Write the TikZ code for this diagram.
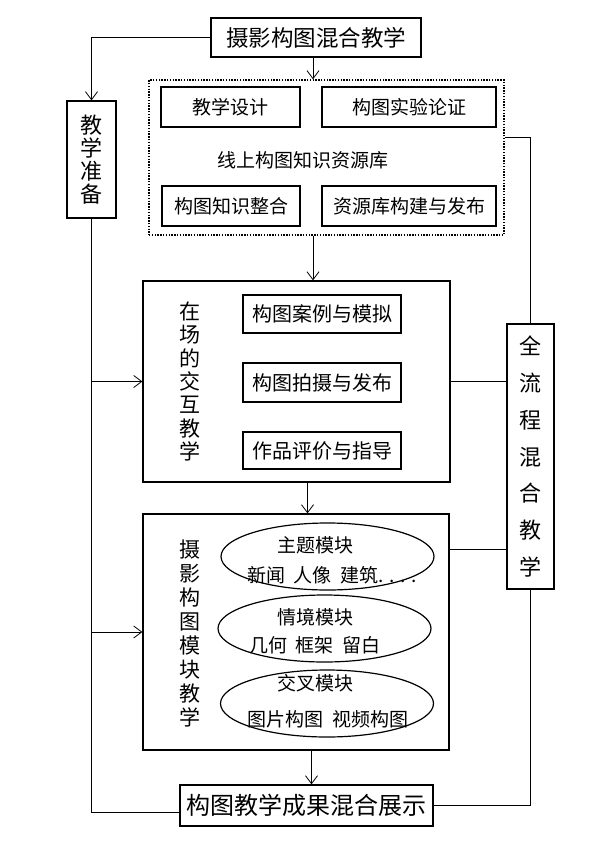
\documentclass[tikz,border=0pt]{standalone}
\usepackage{fontspec}
\setmainfont{Noto Sans CJK SC}
\usetikzlibrary{arrows.meta,positioning,calc,shapes.geometric}
\tikzset{
  kuang/.style={draw,line width=1.3pt,inner sep=0pt,align=center},
  xukuang/.style={draw,line width=1.4pt,dash pattern=on 1.4pt off 1.4pt,inner sep=0pt},
  tuoyuan/.style={draw,ellipse,line width=1.2pt,inner sep=0pt,minimum width=213pt,minimum height=67pt},
  wenzi/.style={inner sep=0pt,font=\fontsize{19}{21}\selectfont},
  shu/.style={align=center,inner sep=0pt},
  xian/.style={line width=0.8pt},
  jian/.style={xian,-{Straight Barb[length=8pt,width=12pt]}},
}
\begin{document}
\begin{tikzpicture}[x=1pt,y=-1pt]
  \useasboundingbox (0,0) rectangle (602,856);
  % ding bu
  \node[kuang,minimum width=210pt,minimum height=39pt,font=\fontsize{22.5}{25}\selectfont] (zong) at (316,37.5) {摄影构图混合教学};
  \node[kuang,minimum width=49pt,minimum height=117pt,font=\fontsize{22}{23}\selectfont] (zhunbei) at (91.5,159.5) {教\\学\\准\\备};
  % xian shang zi yuan ku
  \node[xukuang,minimum width=355pt,minimum height=155pt] (ziyuan) at (326.5,157.5) {};
  \node[kuang,minimum width=139pt,minimum height=40pt,font=\fontsize{19}{21}\selectfont] (sheji) at (230.5,107) {教学设计};
  \node[kuang,minimum width=174pt,minimum height=40pt,font=\fontsize{19}{21}\selectfont] (shiyan) at (409,107) {构图实验论证};
  \node[wenzi] (kuming) at (303,160) {线上构图知识资源库};
  \node[kuang,minimum width=138pt,minimum height=40pt,font=\fontsize{19}{21}\selectfont] (zhenghe) at (231,206) {构图知识整合};
  \node[kuang,minimum width=174pt,minimum height=40pt,font=\fontsize{19}{21}\selectfont] (fabu) at (409,206) {资源库构建与发布};
  % zai chang
  \node[kuang,minimum width=307pt,minimum height=201pt] (zaichang) at (296.5,381.5) {};
  \node[shu,font=\fontsize{21}{23.3}\selectfont] (zaichangming) at (190,381.5) {在\\场\\的\\交\\互\\教\\学};
  \node[kuang,minimum width=158pt,minimum height=38pt,font=\fontsize{20}{22}\selectfont] (anli) at (322,314) {构图案例与模拟};
  \node[kuang,minimum width=158pt,minimum height=39pt,font=\fontsize{20}{22}\selectfont] (paishe) at (322,382.5) {构图拍摄与发布};
  \node[kuang,minimum width=158pt,minimum height=37pt,font=\fontsize{20}{22}\selectfont] (pingjia) at (322,450.5) {作品评价与指导};
  % mo kuai
  \node[kuang,minimum width=306pt,minimum height=236pt] (mokuai) at (296,632) {};
  \node[shu,font=\fontsize{21}{24}\selectfont] (mokuaiming) at (190,633.5) {摄\\影\\构\\图\\模\\块\\教\\学};
  \node[tuoyuan] (zhuti) at (327.5,556.5) {};
  \node[tuoyuan] (qingjing) at (324.5,628.5) {};
  \node[tuoyuan] (jiaocha) at (327,703.5) {};
  \node[wenzi] (zhutiming) at (315,545) {主题模块};
  \node[wenzi] (zhutili) at (332,575) {新闻\ \ 人像\ \ 建筑. . . .};
  \node[wenzi] (qingjingming) at (315,617) {情境模块};
  \node[wenzi] (qingjingli) at (315,645) {几何\ \ 框架\ \ 留白};
  \node[wenzi] (jiaochaming) at (315,683) {交叉模块};
  \node[wenzi] (jiaochali) at (328,719) {图片构图\ \ 视频构图};
  % you ce he di bu
  \node[kuang,minimum width=47pt,minimum height=265pt,font=\fontsize{22}{36.7}\selectfont] (quanliucheng) at (530.5,456.5) {全\\流\\程\\混\\合\\教\\学};
  \node[kuang,minimum width=253pt,minimum height=41pt,font=\fontsize{24}{26}\selectfont] (zhanshi) at (306.5,805.5) {构图教学成果混合展示};
  % lian xian
  \draw[jian] (zong.west) -| (zhunbei.north);
  \draw[jian] ([xshift=-3pt]zong.south) -- ([xshift=-3pt]zong.south |- ziyuan.north);
  \draw[jian] ([xshift=-3pt]zong.south |- ziyuan.south) -- ([xshift=-3pt]zong.south |- zaichang.north);
  \draw[jian] ([xshift=11pt]zaichang.south) -- ([xshift=11pt]zaichang.south |- mokuai.north);
  \draw[jian] ([xshift=5pt]zhanshi.north |- mokuai.south) -- ([xshift=5pt]zhanshi.north);
  \draw[xian] (zhunbei.south) |- ([yshift=-6.5pt]zhanshi.west);
  \draw[jian] (zhunbei.south |- zaichang.west) -- (zaichang.west);
  \draw[jian] (zhunbei.south |- mokuai.west) -- (mokuai.west);
  \draw[xian] ([yshift=20.5pt]ziyuan.east) -| (quanliucheng.north);
  \draw[xian] (zaichang.east) -- (zaichang.east -| quanliucheng.west);
  \draw[xian] ([yshift=83pt]mokuai.east) -- ([yshift=83pt]mokuai.east -| quanliucheng.west);
  \draw[xian] (quanliucheng.south) |- (zhanshi.east);
\end{tikzpicture}
\end{document}
